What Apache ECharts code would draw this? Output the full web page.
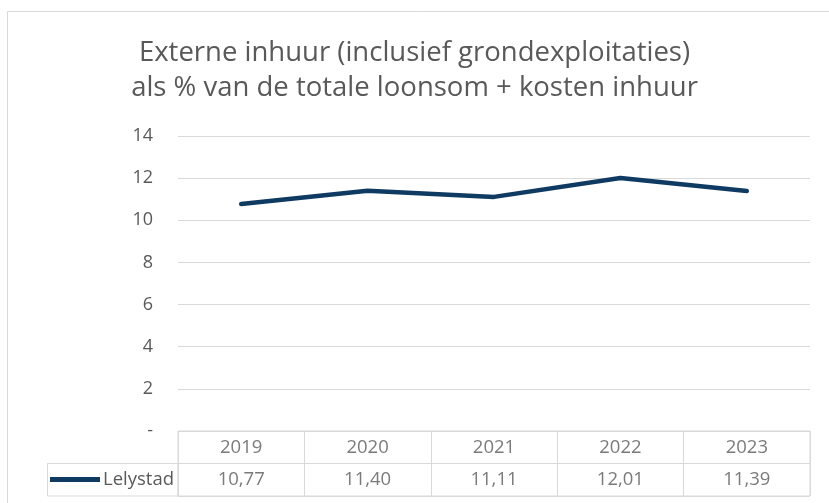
<!DOCTYPE html>
<html>
<head>
<meta charset="utf-8">
<script src="https://cdn.jsdelivr.net/npm/echarts@6/dist/echarts.min.js"></script>
<style>
html,body{margin:0;padding:0;background:#fff;}
#chart{width:829px;height:503px;}
</style>
</head>
<body>
<div id="chart"></div>
<script>
const titleLines = ['Externe inhuur (inclusief grondexploitaties)', 'als % van de totale loonsom + kosten inhuur'];
const categories = ['2019', '2020', '2021', '2022', '2023'];
const seriesName = 'Lelystad';
const values = [10.77, 11.40, 11.11, 12.01, 11.39];
const yTicks = [0, 2, 4, 6, 8, 10, 12, 14];

const FONT = '"Open Sans", "Noto Sans", sans-serif';
const TXT = '#595959';
const GRIDC = '#d9d9d9';
const LINEC = '#0f3a62';

const fmt = v => v.toFixed(2).replace('.', ',');

const chart = echarts.init(document.getElementById('chart'), null, {renderer: 'canvas'});
chart.setOption({
  animation: false,
  backgroundColor: '#fff',
  title: {
    text: titleLines.join('\n'),
    left: 'center',
    top: 36,
    padding: 0,
    textStyle: {fontFamily: FONT, fontSize: 27.5, fontWeight: 'normal', color: TXT, lineHeight: 35}
  },
  legend: {
    data: [{name: seriesName, icon: 'rect'}],
    left: 50,
    top: 470,
    padding: 0,
    itemWidth: 50,
    itemHeight: 5,
    itemGap: 0,
    textStyle: {fontFamily: FONT, fontSize: 18.5, color: TXT, padding: [0, 0, 0, -2]},
    selectedMode: false
  },
  grid: [
    {left: 178, right: 19, top: 136, height: 295},
    {left: 178, right: 19, top: 431, height: 65, show: true, borderColor: GRIDC, borderWidth: 1}
  ],
  xAxis: [
    {type: 'category', gridIndex: 0, data: categories, boundaryGap: true,
     axisLine: {show: false}, axisTick: {show: false}, axisLabel: {show: false}, splitLine: {show: false}},
    {type: 'category', gridIndex: 1, data: categories, boundaryGap: true,
     axisLine: {show: false}, axisTick: {show: false}, axisLabel: {show: false},
     splitLine: {show: true, lineStyle: {color: GRIDC, width: 1}}}
  ],
  yAxis: [
    {type: 'value', gridIndex: 0, min: 0, max: 14, interval: 2,
     axisLine: {show: false}, axisTick: {show: false},
     axisLabel: {margin: 25, fontFamily: FONT, fontSize: 18, color: TXT,
       formatter: v => v === 0 ? '-' : String(v)},
     splitLine: {show: true, lineStyle: {color: GRIDC, width: 1}}},
    {type: 'category', gridIndex: 1, data: ['jaar', 'waarde'], inverse: true,
     axisLine: {show: false}, axisTick: {show: false}, axisLabel: {show: false},
     splitLine: {show: true, lineStyle: {color: GRIDC, width: 1}}}
  ],
  series: [
    {name: seriesName, type: 'line', xAxisIndex: 0, yAxisIndex: 0, data: values,
     showSymbol: false, symbol: 'none', color: LINEC,
     lineStyle: {color: LINEC, width: 4.5, cap: 'round', join: 'round'}},
    {type: 'scatter', xAxisIndex: 1, yAxisIndex: 1, symbolSize: 0, silent: true,
     data: categories.map(c => [c, 'jaar']),
     label: {show: true, position: 'inside', formatter: p => p.value[0],
       fontFamily: FONT, fontSize: 18.5, color: TXT}},
    {type: 'scatter', xAxisIndex: 1, yAxisIndex: 1, symbolSize: 0, silent: true,
     data: values.map((v, i) => [categories[i], 'waarde', v]),
     label: {show: true, position: 'inside', formatter: p => fmt(p.value[2]),
       fontFamily: FONT, fontSize: 18.5, color: TXT}}
  ],
  graphic: [
    {type: 'rect', shape: {x: 7.5, y: 11.5, width: 830, height: 500}, silent: true,
     style: {fill: 'none', stroke: '#d9d9d9', lineWidth: 1}},
    {type: 'rect', shape: {x: 47.5, y: 463.5, width: 130.5, height: 32.5}, silent: true,
     style: {fill: 'none', stroke: GRIDC, lineWidth: 1}}
  ]
});
</script>
</body>
</html>
